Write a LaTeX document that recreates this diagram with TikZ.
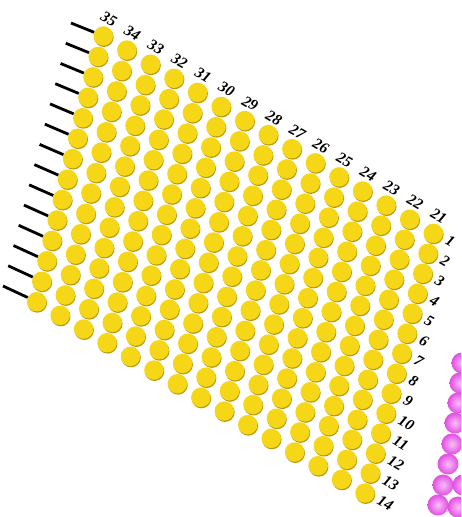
\documentclass[tikz,border=0pt]{standalone}
\usepackage{fontspec}
\setmainfont{Liberation Serif}
\usetikzlibrary{calc,shadows}

\definecolor{beadyellow}{RGB}{246,215,24}
\definecolor{beadshade}{RGB}{186,152,14}
\definecolor{pinklight}{RGB}{250,190,250}
\definecolor{pinkdark}{RGB}{226,78,226}

\begin{document}
\begin{tikzpicture}[
  x=1pt,
  y=-1pt,
  bead/.style={
    circle,
    fill=beadyellow,
    minimum size=19.5pt,
    inner sep=0pt,
    drop shadow={shadow xshift=0.6pt, shadow yshift=-1.2pt, fill=beadshade, opacity=1}
  },
  pinkbead/.style={
    circle,
    minimum size=21pt,
    inner sep=0pt,
    inner color=pinklight,
    outer color=pinkdark
  },
  stick/.style={draw=black, line width=2.8pt},
  collabel/.style={font=\fontsize{15.5}{15.5}\selectfont\bfseries\itshape, rotate=-30, inner sep=0pt},
  rowlabel/.style={font=\fontsize{15.5}{15.5}\selectfont\bfseries\itshape, rotate=-30, anchor=west, inner sep=0pt}
]

\useasboundingbox (0,0) rectangle (461,517);
\clip (0,0) rectangle (461,517);

% corners of the bead grid: column 35 / 21, row 1 / 14
\coordinate (A) at (103.3,36);
\coordinate (B) at (433.3,233.3);
\coordinate (C) at (36.7,301.7);
\coordinate (D) at (365,493);
% free ends of the sticks
\coordinate (E) at (71,23);
\coordinate (F) at (3,286);

\foreach \c in {0,...,14}{
  \foreach \r in {0,...,13}{
    \node[bead] (b-\c-\r) at ($($(A)!\c/14!(B)$)!\r/13!($(C)!\c/14!(D)$)$) {};
  }
}

\foreach \r in {0,...,13}{
  \coordinate (s-\r) at ($(E)!\r/13!(F)$);
  \draw[stick] (s-\r) -- (b-0-\r);
}

\foreach \c [evaluate=\c as \num using int(35-\c)] in {0,...,14}
  \node[collabel] (col\num) at ($(b-\c-0)+(5.5,-17)$) {\num};

\foreach \r [evaluate=\r as \num using int(\r+1)] in {0,...,13}
  \node[rowlabel] (row\num) at ($(b-14-\r)+(13.5,6)$) {\num};

% part of the neighbouring pink array
\foreach \x/\y [count=\i] in {462/363, 460/383, 458/403, 455/423, 452/444,
    448/464, 443/485, 438/505, 463/485, 458/507}
  \node[pinkbead] (m\i) at (\x,\y) {};

\end{tikzpicture}
\end{document}
